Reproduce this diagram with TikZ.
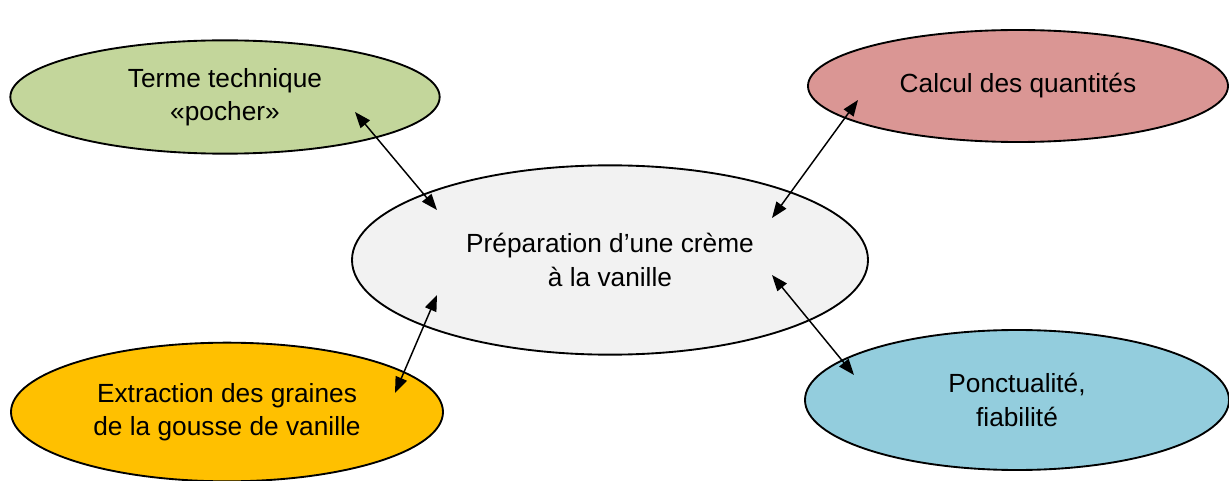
\documentclass[tikz,border=0pt]{standalone}
\usepackage{fontspec}
\setmainfont{Liberation Sans}
\usetikzlibrary{shapes.geometric,arrows.meta}
\begin{document}
\begin{tikzpicture}[x=0.75pt, y=-0.75pt,
  topic/.style={ellipse, draw=black, line width=1.4pt, inner sep=0pt, align=center,
    font=\fontsize{19.7}{25}\selectfont},
  link/.style={{Triangle[length=12pt,width=9pt]}-{Triangle[length=12pt,width=9pt]}, line width=1.1pt}]
\useasboundingbox (0,0) rectangle (1229,481);
% les idées autour
\node [topic, fill={rgb,255:red,195;green,214;blue,155}, minimum width=322pt, minimum height=85pt] (terme) at (225,97) {Terme technique\\«pocher»};
\node [topic, fill={rgb,255:red,218;green,150;blue,148}, minimum width=315pt, minimum height=84pt] (calcul) at (1018,86) {Calcul des quantités};
\node [topic, fill={rgb,255:red,242;green,242;blue,242}, minimum width=387pt, minimum height=142pt] (creme) at (610,260) {Préparation d’une crème\\à la vanille};
\node [topic, fill={rgb,255:red,255;green,192;blue,0}, minimum width=324pt, minimum height=104pt] (graines) at (227,412) {Extraction des graines\\de la gousse de vanille};
\node [topic, fill={rgb,255:red,147;green,205;blue,221}, minimum width=318pt, minimum height=105pt] (fiable) at (1017,400) {Ponctualité,\\fiabilité};
% bouts des flèches
\coordinate (t1) at (355,112);
\coordinate (c1) at (437,210);
\coordinate (q1) at (858,100);
\coordinate (c2) at (772,218);
\coordinate (c3) at (437,295);
\coordinate (g1) at (395,393);
\coordinate (c4) at (772,275);
\coordinate (f1) at (854,375);
\draw [link] (t1) -- (c1);
\draw [link] (q1) -- (c2);
\draw [link] (c3) -- (g1);
\draw [link] (c4) -- (f1);
\end{tikzpicture}
\end{document}
